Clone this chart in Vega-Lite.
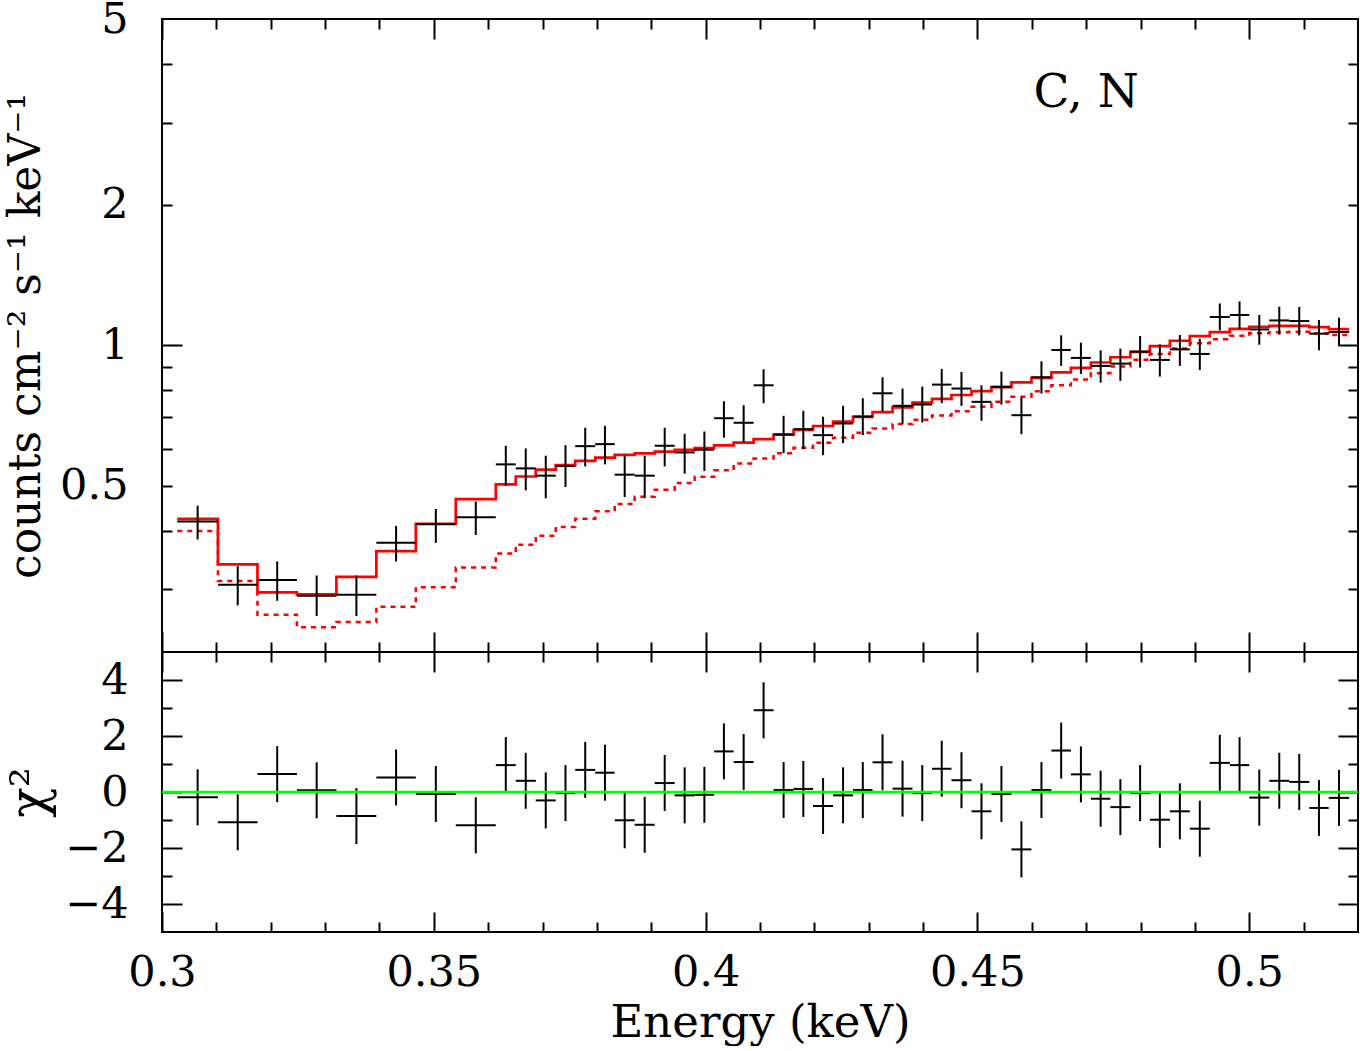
{
  "$schema": "https://vega.github.io/schema/vega-lite/v6.json",
  "padding": {"left": 3, "top": -3, "right": 2, "bottom": 0},
  "background": "white",
  "spacing": 0,
  "bounds": "flush",
  "config": {
    "view": {"stroke": "black", "strokeWidth": 2},
    "font": "DejaVu Serif",
    "axis": {
      "domain": false, "grid": false, "labelFlush": false,
      "labelFont": "DejaVu Serif", "labelFontSize": 43, "labelColor": "black",
      "titleFont": "DejaVu Serif", "titleFontSize": 46, "titleFontWeight": "normal", "titleColor": "black",
      "tickColor": "black", "tickWidth": 2, "minExtent": 0, "labelOverlap": false
    }
  },
  "datasets": {
    "bins": [
      {"lo":0.30281,"hi":0.31029,"e":0.30655,"y":0.4188,"ylo":0.3833,"yhi":0.4530,"r":-0.19,"rlo":-1.19,"rhi":0.81},
      {"lo":0.31029,"hi":0.31756,"e":0.31393,"y":0.3065,"ylo":0.2769,"yhi":0.3360,"r":-1.08,"rlo":-2.08,"rhi":-0.08},
      {"lo":0.31756,"hi":0.32482,"e":0.32119,"y":0.3137,"ylo":0.2833,"yhi":0.3439,"r":0.64,"rlo":-0.36,"rhi":1.64},
      {"lo":0.32482,"hi":0.33208,"e":0.32845,"y":0.2903,"ylo":0.2627,"yhi":0.3209,"r":0.06,"rlo":-0.94,"rhi":1.06},
      {"lo":0.33208,"hi":0.33943,"e":0.33576,"y":0.2917,"ylo":0.2627,"yhi":0.3209,"r":-0.86,"rlo":-1.86,"rhi":0.14},
      {"lo":0.33943,"hi":0.34669,"e":0.34306,"y":0.3770,"ylo":0.3439,"yhi":0.4099,"r":0.52,"rlo":-0.48,"rhi":1.52},
      {"lo":0.34669,"hi":0.35404,"e":0.35037,"y":0.4132,"ylo":0.3770,"yhi":0.4456,"r":-0.07,"rlo":-1.07,"rhi":0.93},
      {"lo":0.35404,"hi":0.36140,"e":0.35772,"y":0.4277,"ylo":0.3920,"yhi":0.4621,"r":-1.19,"rlo":-2.19,"rhi":-0.19},
      {"lo":0.36140,"hi":0.36507,"e":0.36324,"y":0.5553,"ylo":0.4999,"yhi":0.6087,"r":0.96,"rlo":-0.04,"rhi":1.96},
      {"lo":0.36507,"hi":0.36875,"e":0.36691,"y":0.5444,"ylo":0.4885,"yhi":0.6007,"r":0.40,"rlo":-0.60,"rhi":1.40},
      {"lo":0.36875,"hi":0.37243,"e":0.37059,"y":0.5252,"ylo":0.4697,"yhi":0.5795,"r":-0.30,"rlo":-1.30,"rhi":0.70},
      {"lo":0.37243,"hi":0.37601,"e":0.37422,"y":0.5507,"ylo":0.4966,"yhi":0.6105,"r":-0.04,"rlo":-1.04,"rhi":0.96},
      {"lo":0.37601,"hi":0.37969,"e":0.37785,"y":0.6075,"ylo":0.5498,"yhi":0.6653,"r":0.79,"rlo":-0.21,"rhi":1.79},
      {"lo":0.37969,"hi":0.38327,"e":0.38148,"y":0.6136,"ylo":0.5553,"yhi":0.6718,"r":0.69,"rlo":-0.31,"rhi":1.69},
      {"lo":0.38327,"hi":0.38695,"e":0.38511,"y":0.5278,"ylo":0.4727,"yhi":0.5795,"r":-1.01,"rlo":-2.01,"rhi":-0.01},
      {"lo":0.38695,"hi":0.39063,"e":0.38879,"y":0.5252,"ylo":0.4697,"yhi":0.5795,"r":-1.17,"rlo":-2.17,"rhi":-0.17},
      {"lo":0.39063,"hi":0.39430,"e":0.39247,"y":0.6087,"ylo":0.5498,"yhi":0.6653,"r":0.32,"rlo":-0.68,"rhi":1.32},
      {"lo":0.39430,"hi":0.39798,"e":0.39614,"y":0.5890,"ylo":0.5304,"yhi":0.6458,"r":-0.12,"rlo":-1.12,"rhi":0.88},
      {"lo":0.39798,"hi":0.40156,"e":0.39977,"y":0.5969,"ylo":0.5373,"yhi":0.6531,"r":-0.10,"rlo":-1.10,"rhi":0.90},
      {"lo":0.40156,"hi":0.40515,"e":0.40336,"y":0.6973,"ylo":0.6333,"yhi":0.7583,"r":1.45,"rlo":0.45,"rhi":2.45},
      {"lo":0.40515,"hi":0.40882,"e":0.40699,"y":0.6818,"ylo":0.6209,"yhi":0.7436,"r":1.07,"rlo":0.07,"rhi":2.07},
      {"lo":0.40882,"hi":0.41250,"e":0.41066,"y":0.8203,"ylo":0.7510,"yhi":0.8877,"r":2.92,"rlo":1.92,"rhi":3.92},
      {"lo":0.41250,"hi":0.41618,"e":0.41434,"y":0.6436,"ylo":0.5869,"yhi":0.7057,"r":0.07,"rlo":-0.93,"rhi":1.07},
      {"lo":0.41618,"hi":0.41976,"e":0.41797,"y":0.6607,"ylo":0.5985,"yhi":0.7233,"r":0.11,"rlo":-0.89,"rhi":1.11},
      {"lo":0.41976,"hi":0.42344,"e":0.42160,"y":0.6414,"ylo":0.5811,"yhi":0.7023,"r":-0.50,"rlo":-1.50,"rhi":0.50},
      {"lo":0.42344,"hi":0.42711,"e":0.42528,"y":0.6794,"ylo":0.6166,"yhi":0.7413,"r":-0.12,"rlo":-1.12,"rhi":0.88},
      {"lo":0.42711,"hi":0.43070,"e":0.42891,"y":0.7032,"ylo":0.6414,"yhi":0.7697,"r":0.07,"rlo":-0.93,"rhi":1.07},
      {"lo":0.43070,"hi":0.43438,"e":0.43254,"y":0.7886,"ylo":0.7220,"yhi":0.8534,"r":1.06,"rlo":0.06,"rhi":2.06},
      {"lo":0.43438,"hi":0.43805,"e":0.43622,"y":0.7413,"ylo":0.6771,"yhi":0.8073,"r":0.12,"rlo":-0.88,"rhi":1.12},
      {"lo":0.43805,"hi":0.44164,"e":0.43985,"y":0.7460,"ylo":0.6828,"yhi":0.8153,"r":-0.04,"rlo":-1.04,"rhi":0.96},
      {"lo":0.44164,"hi":0.44522,"e":0.44343,"y":0.8231,"ylo":0.7510,"yhi":0.8894,"r":0.83,"rlo":-0.17,"rhi":1.83},
      {"lo":0.44522,"hi":0.44890,"e":0.44706,"y":0.8073,"ylo":0.7413,"yhi":0.8764,"r":0.42,"rlo":-0.58,"rhi":1.42},
      {"lo":0.44890,"hi":0.45257,"e":0.45074,"y":0.7560,"ylo":0.6885,"yhi":0.8203,"r":-0.69,"rlo":-1.69,"rhi":0.31},
      {"lo":0.45257,"hi":0.45625,"e":0.45441,"y":0.8142,"ylo":0.7460,"yhi":0.8778,"r":-0.07,"rlo":-1.07,"rhi":0.93},
      {"lo":0.45625,"hi":0.45993,"e":0.45809,"y":0.7078,"ylo":0.6446,"yhi":0.7722,"r":-2.05,"rlo":-3.05,"rhi":-1.05},
      {"lo":0.45993,"hi":0.46360,"e":0.46177,"y":0.8534,"ylo":0.7875,"yhi":0.9233,"r":0.07,"rlo":-0.93,"rhi":1.07},
      {"lo":0.46360,"hi":0.46719,"e":0.46540,"y":0.9766,"ylo":0.9027,"yhi":1.0495,"r":1.48,"rlo":0.48,"rhi":2.48},
      {"lo":0.46719,"hi":0.47086,"e":0.46903,"y":0.9389,"ylo":0.8676,"yhi":1.0123,"r":0.63,"rlo":-0.37,"rhi":1.63},
      {"lo":0.47086,"hi":0.47445,"e":0.47266,"y":0.9027,"ylo":0.8312,"yhi":0.9747,"r":-0.24,"rlo":-1.24,"rhi":0.76},
      {"lo":0.47445,"hi":0.47813,"e":0.47629,"y":0.9129,"ylo":0.8384,"yhi":0.9829,"r":-0.54,"rlo":-1.54,"rhi":0.46},
      {"lo":0.47813,"hi":0.48171,"e":0.47992,"y":0.9685,"ylo":0.8951,"yhi":1.0464,"r":-0.04,"rlo":-1.04,"rhi":0.96},
      {"lo":0.48171,"hi":0.48539,"e":0.48355,"y":0.9298,"ylo":0.8564,"yhi":1.0040,"r":-0.99,"rlo":-1.99,"rhi":0.01},
      {"lo":0.48539,"hi":0.48906,"e":0.48723,"y":0.9795,"ylo":0.9027,"yhi":1.0515,"r":-0.69,"rlo":-1.69,"rhi":0.31},
      {"lo":0.48906,"hi":0.49274,"e":0.49090,"y":0.9576,"ylo":0.8851,"yhi":1.0325,"r":-1.31,"rlo":-2.31,"rhi":-0.31},
      {"lo":0.49274,"hi":0.49642,"e":0.49458,"y":1.1490,"ylo":1.0756,"yhi":1.2284,"r":1.04,"rlo":0.04,"rhi":2.04},
      {"lo":0.49642,"hi":0.50000,"e":0.49821,"y":1.1603,"ylo":1.0846,"yhi":1.2406,"r":0.96,"rlo":-0.04,"rhi":1.96},
      {"lo":0.50000,"hi":0.50368,"e":0.50184,"y":1.0809,"ylo":1.0025,"yhi":1.1603,"r":-0.20,"rlo":-1.20,"rhi":0.80},
      {"lo":0.50368,"hi":0.50735,"e":0.50552,"y":1.1298,"ylo":1.0531,"yhi":1.2088,"r":0.40,"rlo":-0.60,"rhi":1.40},
      {"lo":0.50735,"hi":0.51103,"e":0.50919,"y":1.1264,"ylo":1.0495,"yhi":1.2071,"r":0.36,"rlo":-0.64,"rhi":1.36},
      {"lo":0.51103,"hi":0.51461,"e":0.51282,"y":1.0583,"ylo":0.9747,"yhi":1.1322,"r":-0.57,"rlo":-1.57,"rhi":0.43},
      {"lo":0.51461,"hi":0.51838,"e":0.51650,"y":1.0671,"ylo":0.9961,"yhi":1.1451,"r":-0.21,"rlo":-1.21,"rhi":0.79}
    ],
    "steps": [
      {"x":0.30281,"m":0.4245,"md":0.3997},{"x":0.31029,"m":0.339,"md":0.3124},{"x":0.31756,"m":0.2954,"md":0.2645},
      {"x":0.32482,"m":0.2925,"md":0.2485},{"x":0.33208,"m":0.3186,"md":0.255},{"x":0.33943,"m":0.3618,"md":0.275},
      {"x":0.34669,"m":0.4143,"md":0.303},{"x":0.35404,"m":0.468,"md":0.334},{"x":0.36140,"m":0.503,"md":0.3575},
      {"x":0.36507,"m":0.523,"md":0.3737},{"x":0.36875,"m":0.541,"md":0.3905},{"x":0.37243,"m":0.553,"md":0.4075},
      {"x":0.37601,"m":0.565,"md":0.4245},{"x":0.37969,"m":0.574,"md":0.4408},{"x":0.38327,"m":0.582,"md":0.4568},
      {"x":0.38695,"m":0.5865,"md":0.4735},{"x":0.39063,"m":0.5915,"md":0.490},{"x":0.39430,"m":0.5964,"md":0.5064},
      {"x":0.39798,"m":0.602,"md":0.5224},{"x":0.40156,"m":0.610,"md":0.5395},{"x":0.40515,"m":0.618,"md":0.5575},
      {"x":0.40882,"m":0.629,"md":0.5715},{"x":0.41250,"m":0.643,"md":0.5865},{"x":0.41618,"m":0.658,"md":0.603},
      {"x":0.41976,"m":0.671,"md":0.618},{"x":0.42344,"m":0.686,"md":0.6335},{"x":0.42711,"m":0.702,"md":0.649},
      {"x":0.43070,"m":0.7185,"md":0.663},{"x":0.43438,"m":0.736,"md":0.6775},{"x":0.43805,"m":0.753,"md":0.692},
      {"x":0.44164,"m":0.767,"md":0.707},{"x":0.44522,"m":0.782,"md":0.722},{"x":0.44890,"m":0.797,"md":0.738},
      {"x":0.45257,"m":0.813,"md":0.7565},{"x":0.45625,"m":0.832,"md":0.7755},{"x":0.45993,"m":0.851,"md":0.797},
      {"x":0.46360,"m":0.874,"md":0.820},{"x":0.46719,"m":0.894,"md":0.8445},{"x":0.47086,"m":0.918,"md":0.871},
      {"x":0.47445,"m":0.942,"md":0.900},{"x":0.47813,"m":0.967,"md":0.930},{"x":0.48171,"m":0.995,"md":0.957},
      {"x":0.48539,"m":1.022,"md":0.984},{"x":0.48906,"m":1.046,"md":1.009},{"x":0.49274,"m":1.066,"md":1.029},
      {"x":0.49642,"m":1.084,"md":1.048},{"x":0.50000,"m":1.095,"md":1.060},{"x":0.50368,"m":1.100,"md":1.066},
      {"x":0.50735,"m":1.100,"md":1.068},{"x":0.51103,"m":1.093,"md":1.061},{"x":0.51461,"m":1.082,"md":1.051},
      {"x":0.51838,"m":1.082,"md":1.051}
    ]
  },
  "vconcat": [
    {
      "width": 1196,
      "height": 633,
      "resolve": {"axis": {"x": "independent", "y": "independent"}},
      "layer": [
        {
          "data": {"name": "steps"},
          "mark": {"type": "line", "interpolate": "step-after", "color": "#ff0000", "strokeWidth": 2.5, "strokeDash": [5, 5]},
          "encoding": {
            "x": {"field": "x", "type": "quantitative", "scale": {"domain": [0.3, 0.52], "nice": false, "zero": false},
                  "axis": {"orient": "bottom", "values": [0.3, 0.35, 0.4, 0.45, 0.5], "labels": false, "tickSize": -20, "title": null}},
            "y": {"field": "md", "type": "quantitative", "scale": {"type": "log", "domain": [0.22, 5], "nice": false},
                  "axis": {"orient": "left", "values": [0.5, 1, 2, 5], "format": "~g", "ticks": false, "labelPadding": 34,
                           "title": "counts cm⁻² s⁻¹ keV⁻¹", "titleFontSize": 44, "titlePadding": 11}}
          }
        },
        {
          "data": {"name": "steps"},
          "mark": {"type": "line", "interpolate": "step-after", "color": "#ff0000", "strokeWidth": 2.7},
          "encoding": {
            "x": {"field": "x", "type": "quantitative",
                  "axis": {"orient": "bottom", "values": [0.31,0.32,0.33,0.34,0.36,0.37,0.38,0.39,0.41,0.42,0.43,0.44,0.46,0.47,0.48,0.49,0.51], "labels": false, "tickSize": -10, "title": null}},
            "y": {"field": "m", "type": "quantitative",
                  "axis": {"orient": "left", "values": [1], "labels": false, "tickSize": -20, "title": null}}
          }
        },
        {
          "data": {"name": "bins"},
          "mark": {"type": "rule", "color": "black", "strokeWidth": 2},
          "encoding": {
            "x": {"field": "e", "type": "quantitative",
                  "axis": {"orient": "top", "values": [0.3, 0.35, 0.4, 0.45, 0.5], "labels": false, "tickSize": -20, "title": null}},
            "y": {"field": "ylo", "type": "quantitative",
                  "axis": {"orient": "left", "values": [0.3,0.4,0.5,0.6,0.7,0.8,0.9,2,3,4], "labels": false, "tickSize": -10, "title": null}},
            "y2": {"field": "yhi"}
          }
        },
        {
          "data": {"name": "bins"},
          "mark": {"type": "rule", "color": "black", "strokeWidth": 2},
          "encoding": {
            "x": {"field": "lo", "type": "quantitative",
                  "axis": {"orient": "top", "values": [0.31,0.32,0.33,0.34,0.36,0.37,0.38,0.39,0.41,0.42,0.43,0.44,0.46,0.47,0.48,0.49,0.51], "labels": false, "tickSize": -10, "title": null}},
            "x2": {"field": "hi"},
            "y": {"field": "y", "type": "quantitative",
                  "axis": {"orient": "right", "values": [1], "labels": false, "tickSize": -20, "title": null}}
          }
        },
        {
          "data": {"values": [{}]},
          "mark": {"type": "text", "text": "C, N", "font": "DejaVu Serif", "fontSize": 47, "color": "black", "align": "center", "baseline": "middle"},
          "encoding": {
            "x": {"datum": 0.47, "type": "quantitative", "axis": null},
            "y": {"datum": 3.47, "type": "quantitative",
                  "axis": {"orient": "right", "values": [0.3,0.4,0.5,0.6,0.7,0.8,0.9,2,3,4], "labels": false, "tickSize": -10, "title": null}}
          }
        }
      ]
    },
    {
      "width": 1196,
      "height": 280,
      "resolve": {"axis": {"x": "independent", "y": "independent"}},
      "layer": [
        {
          "data": {"name": "bins"},
          "mark": {"type": "rule", "color": "black", "strokeWidth": 2},
          "encoding": {
            "x": {"field": "e", "type": "quantitative", "scale": {"domain": [0.3, 0.52], "nice": false, "zero": false},
                  "axis": {"orient": "bottom", "values": [0.3, 0.35, 0.4, 0.45, 0.5], "format": "~g", "ticks": false, "labelPadding": 19,
                           "title": "Energy (keV)", "titleFontSize": 45, "titlePadding": 6}},
            "y": {"field": "rlo", "type": "quantitative", "scale": {"domain": [-5, 5], "nice": false, "zero": false},
                  "axis": {"orient": "left", "values": [-4, -2, 0, 2, 4], "ticks": false, "labelPadding": 34,
                           "title": "χ²", "titleFontSize": 50, "titlePadding": 10}},
            "y2": {"field": "rhi"}
          }
        },
        {
          "data": {"name": "bins"},
          "mark": {"type": "rule", "color": "black", "strokeWidth": 2},
          "encoding": {
            "x": {"field": "lo", "type": "quantitative",
                  "axis": {"orient": "bottom", "values": [0.3, 0.35, 0.4, 0.45, 0.5], "labels": false, "tickSize": -20, "title": null}},
            "x2": {"field": "hi"},
            "y": {"field": "r", "type": "quantitative",
                  "axis": {"orient": "left", "values": [-4, -2, 0, 2, 4], "labels": false, "tickSize": -20, "title": null}}
          }
        },
        {
          "data": {"name": "bins"},
          "mark": {"type": "point", "opacity": 0},
          "encoding": {
            "x": {"field": "e", "type": "quantitative",
                  "axis": {"orient": "bottom", "values": [0.31,0.32,0.33,0.34,0.36,0.37,0.38,0.39,0.41,0.42,0.43,0.44,0.46,0.47,0.48,0.49,0.51], "labels": false, "tickSize": -10, "title": null}},
            "y": {"field": "r", "type": "quantitative",
                  "axis": {"orient": "left", "values": [-3, -1, 1, 3], "labels": false, "tickSize": -10, "title": null}}
          }
        },
        {
          "data": {"name": "bins"},
          "mark": {"type": "point", "opacity": 0},
          "encoding": {
            "x": {"field": "e", "type": "quantitative",
                  "axis": {"orient": "top", "values": [0.3, 0.35, 0.4, 0.45, 0.5], "labels": false, "tickSize": -20, "title": null}},
            "y": {"field": "r", "type": "quantitative",
                  "axis": {"orient": "right", "values": [-4, -2, 0, 2, 4], "labels": false, "tickSize": -20, "title": null}}
          }
        },
        {
          "data": {"values": [{}]},
          "mark": {"type": "rule", "color": "#00ff00", "strokeWidth": 2.5},
          "encoding": {
            "x": {"datum": 0.3, "type": "quantitative",
                  "axis": {"orient": "top", "values": [0.31,0.32,0.33,0.34,0.36,0.37,0.38,0.39,0.41,0.42,0.43,0.44,0.46,0.47,0.48,0.49,0.51], "labels": false, "tickSize": -10, "title": null}},
            "x2": {"datum": 0.52},
            "y": {"datum": 0, "type": "quantitative",
                  "axis": {"orient": "right", "values": [-3, -1, 1, 3], "labels": false, "tickSize": -10, "title": null}}
          }
        }
      ]
    }
  ]
}
